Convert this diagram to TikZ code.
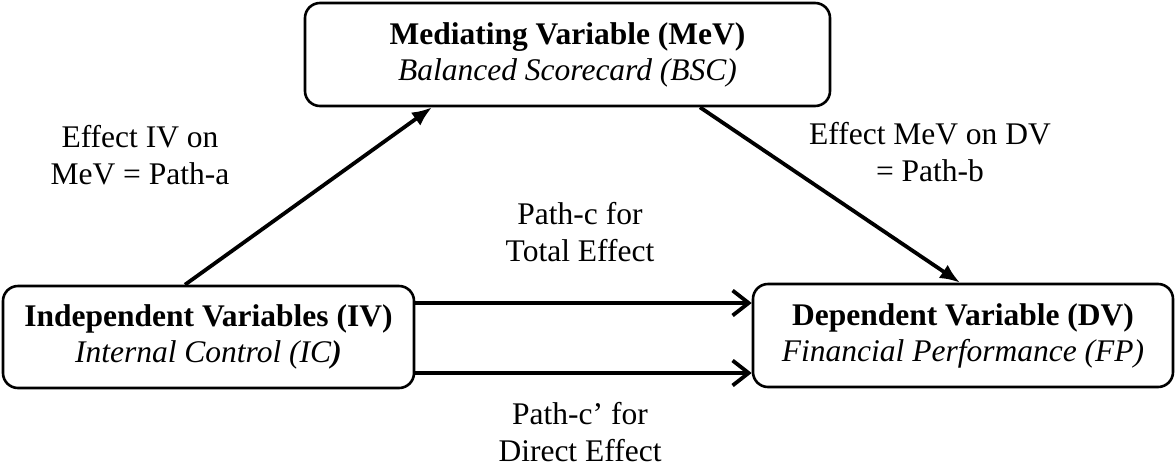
\documentclass[tikz,border=0pt]{standalone}
\usepackage{fontspec}
\setmainfont{Liberation Serif}
\usetikzlibrary{arrows.meta}

\tikzset{
  varbox/.style={draw, line width=2.6pt, rounded corners=15pt, align=center,
    inner sep=0pt, font=\fontsize{31.5}{36}\selectfont},
  lbl/.style={align=center, inner sep=0pt, font=\fontsize{31.5}{37}\selectfont},
  solidarrow/.style={line width=3.8pt, -{Latex[length=20pt,width=16pt]}},
  openarrow/.style={line width=3.8pt, -{Straight Barb[length=16pt,width=25pt,line width=3.8pt]}}
}

\begin{document}
\begin{tikzpicture}[x=1pt, y=-1pt]
\useasboundingbox (0,0) rectangle (1175,472);

% the three variables
\node[varbox, minimum width=525pt, minimum height=103pt] (mev) at (567.5,54.5)
  {\textbf{Mediating Variable (MeV)}\\\textit{Balanced Scorecard (BSC)}};
\node[varbox, minimum width=411pt, minimum height=102pt] (iv) at (208.5,337)
  {\textbf{Independent Variables (IV)}\\\textit{Internal Control (IC}\textbf{\textit{)}}};
\node[varbox, minimum width=420pt, minimum height=103pt] (dv) at (963,335.5)
  {\textbf{Dependent Variable (DV)}\\\textit{Financial Performance (FP)}};

% paths a and b through the mediator
\draw[solidarrow] ([xshift=-23.5pt]iv.north) -- ([xshift=-135.5pt]mev.south);
\draw[solidarrow] ([xshift=132.5pt]mev.south) -- ([xshift=-3pt]dv.north);

% total and direct effect
\draw[openarrow] ([yshift=34pt]iv.east) -- ([yshift=34pt]iv.east -| dv.west);
\draw[openarrow] ([yshift=-36pt]iv.east) -- ([yshift=-36pt]iv.east -| dv.west);

% path labels
\node[lbl] (la) at (140,155) {Effect IV on\\MeV = Path-a};
\node[lbl] (lb) at (930,152) {Effect MeV on DV\\= Path-b};
\node[lbl] (lc) at (580,232) {Path-c for\\Total Effect};
\node[lbl] (lcp) at (580,432) {Path-c’ for\\Direct Effect};
\end{tikzpicture}
\end{document}
